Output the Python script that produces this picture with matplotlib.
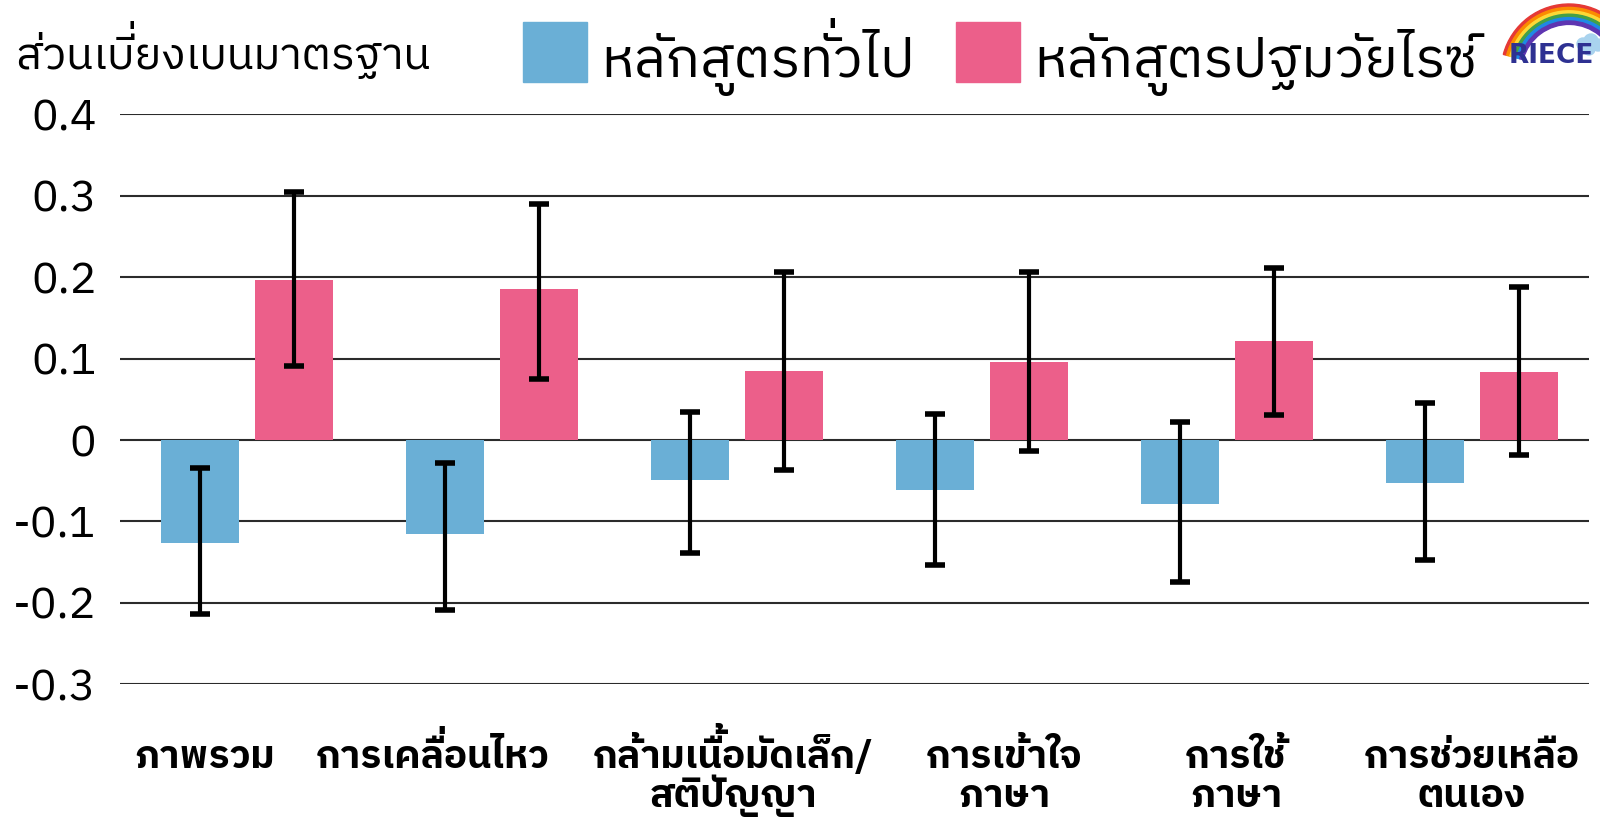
import numpy as np
import matplotlib
matplotlib.use("Agg")
import matplotlib.pyplot as plt
from matplotlib.patches import Rectangle, Wedge, Circle
from matplotlib.transforms import offset_copy, blended_transform_factory
from matplotlib.font_manager import FontProperties, findfont
from matplotlib.ft2font import FT2Font, LoadFlags

THAI_FONT = 'IBM Plex Sans Thai'
plt.rcParams['font.family'] = [THAI_FONT, 'DejaVu Sans']

# ---- data ----
categories = ['ภาพรวม', 'การเคลื่อนไหว', 'กล้ามเนื้อมัดเล็ก/\nสติปัญญา',
              'การเข้าใจ\nภาษา', 'การใช้\nภาษา', 'การช่วยเหลือ\nตนเอง']
series_names = ['หลักสูตรทั่วไป', 'หลักสูตรปฐมวัยไรซ์']
y_title = 'ส่วนเบี่ยงเบนมาตรฐาน'

general_sd = [-0.127, -0.115, -0.049, -0.061, -0.078, -0.053]
general_lo = [-0.214, -0.209, -0.139, -0.153, -0.174, -0.147]
general_hi = [-0.034, -0.028, 0.035, 0.032, 0.022, 0.045]

riece_sd = [0.197, 0.185, 0.085, 0.096, 0.122, 0.083]
riece_lo = [0.091, 0.075, -0.037, -0.014, 0.031, -0.019]
riece_hi = [0.305, 0.290, 0.206, 0.206, 0.211, 0.188]

yticks = [0.4, 0.3, 0.2, 0.1, 0, -0.1, -0.2, -0.3]
ytick_labels = ['0.4', '0.3', '0.2', '0.1', '0', '-0.1', '-0.2', '-0.3']

BLUE = '#6AAFD6'
PINK = '#EC5F8A'

W, H = 1600, 821
fig = plt.figure(figsize=(W / 100, H / 100), dpi=100)


# matplotlib lays out text without Thai shaping, so tone marks that sit on
# an upper vowel (and upper vowels on tall consonants) are placed by hand.
TONES = '\u0e48\u0e49\u0e4a\u0e4b'
UPPER = '\u0e31\u0e34\u0e35\u0e36\u0e37\u0e47'
TALL = 'ปฝฟฬ'
_fonts = {}


def advance(s, size, weight):
    key = (size, weight)
    if key not in _fonts:
        f = FT2Font(findfont(FontProperties(family=THAI_FONT, weight=weight)),
                    hinting_factor=1)
        f.set_size(size, 100)
        _fonts[key] = f
    f = _fonts[key]
    return sum(f.load_char(ord(c), flags=LoadFlags.NO_HINTING).linearHoriAdvance
               for c in s) / 65536


def thai_text(x, y, s, size, weight='normal', ha='left', transform=None, **kw):
    transform = transform or fig.transFigure
    base, raised, shifted = '', [], []
    for c in s:
        if c in TONES and base and base[-1] in UPPER:
            raised.append((advance(base, size, weight), c))
        elif c in UPPER and base and base[-1] in TALL:
            shifted.append((advance(base, size, weight), c))
        else:
            base += c
    x0 = -advance(base, size, weight) / 2 if ha == 'center' else 0
    em = size * 100 / 72

    def put(dx, dy, txt):
        tr = offset_copy(transform, fig=fig, x=dx, y=dy, units='dots')
        fig.text(x, y, txt, transform=tr, fontsize=size, fontweight=weight,
                 ha='left', va='baseline', **kw)

    put(x0, 0, base)
    for adv, c in raised:
        put(x0 + adv, 0.24 * em, c)
    for adv, c in shifted:
        put(x0 + adv - 0.10 * em, 0, c)


ax = fig.add_axes([120 / W, 1 - 684.3 / H, (1589 - 120) / W, (684.3 - 114.3) / H])

x = np.arange(len(categories))
bw = 0.318
off = 0.193


def draw_series(xpos, vals, lo, hi, color):
    vals = np.array(vals)
    err = np.vstack([vals - np.array(lo), np.array(hi) - vals])
    ax.bar(xpos, vals, width=bw, color=color, zorder=2)
    ax.errorbar(xpos, vals, yerr=err, fmt='none', ecolor='black',
                elinewidth=3.0, capsize=7.5, capthick=4.0, zorder=3)


draw_series(x - off, general_sd, general_lo, general_hi, BLUE)
draw_series(x + off, riece_sd, riece_lo, riece_hi, PINK)

ax.set_ylim(-0.3, 0.4)
ax.set_xlim(-0.518, 5.478)
ax.set_yticks(yticks)
ax.set_yticklabels(ytick_labels)
ax.set_xticks([])
for s in ax.spines.values():
    s.set_visible(False)
ax.yaxis.grid(True, color='#2b2b2b', linewidth=1.5, zorder=0)
ax.set_axisbelow(True)
ax.tick_params(axis='y', length=0, pad=17, labelsize=32)

# category labels under each group
label_shift = [-0.173, -0.24, -0.012, 0.09, 0.037, 0.0]
xlab_tr = blended_transform_factory(ax.transData, fig.transFigure)
for xi, name, sh in zip(x, categories, label_shift):
    for k, line in enumerate(name.split('\n')):
        thai_text(xi + sh, 1 - (768 + 39 * k) / H, line, 28, weight='bold',
                  ha='center', transform=xlab_tr)

# header: axis title and legend
thai_text(15 / W, 1 - 69 / H, y_title, 32)
legend_items = [(523, BLUE, series_names[0]), (956, PINK, series_names[1])]
for lx, col, name in legend_items:
    fig.patches.append(Rectangle((lx / W, 1 - 82 / H), 64 / W, 60 / H,
                                 transform=fig.transFigure, color=col))
    thai_text((lx + 78) / W, 1 - 77 / H, name, 40)

# small rainbow logo, top right
lax = fig.add_axes([1497 / W, 1 - 80 / H, 103 / W, 80 / H])
lax.set_xlim(0, 103)
lax.set_ylim(0, 80)
lax.axis('off')
rainbow = ['#E53935', '#FB8C00', '#FDD835', '#43A047', '#1E88E5', '#5E35B1']
for i, c in enumerate(rainbow):
    r = 68 - i * 3.4
    lax.add_patch(Wedge((72, 8), r, 12, 165, width=3.4, color=c))
for cx, cy, cr in [(86, 36, 6), (94, 39, 7), (101, 35, 6), (92, 31, 6)]:
    lax.add_patch(Circle((cx, cy), cr, color='#A9D3EE'))
lax.text(54, 24, 'RIECE', fontsize=19, fontweight='bold', color='#2E3192',
         ha='center', va='center', family='DejaVu Sans')

fig.savefig('out.png', dpi=100, facecolor='white')
